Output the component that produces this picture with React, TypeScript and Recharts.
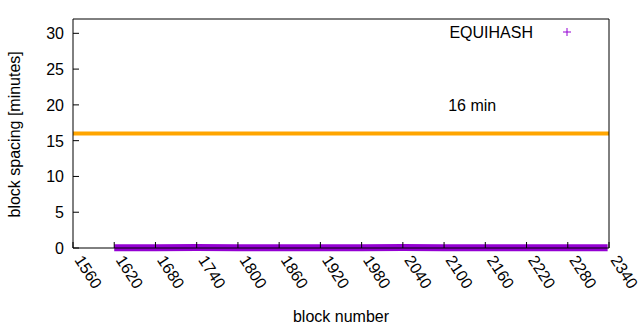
import React from 'react';
import {
  LineChart,
  Line,
  XAxis,
  YAxis,
  ReferenceLine,
  ReferenceDot,
  Legend,
} from 'recharts';

const blocks = [1620, 1680, 1740, 1800, 1860, 1920, 1980, 2040, 2100, 2160, 2220, 2280, 2338];
const spacing = [0.05, 0.03, 0.06, 0.04, 0.05, 0.03, 0.04, 0.06, 0.05, 0.04, 0.03, 0.05, 0.04];
const xTicks = [1560, 1620, 1680, 1740, 1800, 1860, 1920, 1980, 2040, 2100, 2160, 2220, 2280, 2340];
const yTicks = [0, 5, 10, 15, 20, 25, 30];
const targetMinutes = 16;

const chartData = blocks.map((b, i) => ({ block: b, spacing: spacing[i] }));

const font = '"Liberation Sans", Arial, sans-serif';
const TICK = 6;

const BottomTick = (props: any) => {
  const { x, y, payload } = props;
  const tx = x + 1;
  const ty = y + 12;
  return (
    <g>
      <line x1={x} y1={y} x2={x} y2={y - TICK} stroke="#000" />
      <text
        x={tx}
        y={ty}
        transform={`rotate(57 ${tx} ${ty})`}
        textAnchor="start"
        fontSize={16}
        fontFamily={font}
        fill="#000"
      >
        {payload.value}
      </text>
    </g>
  );
};

const TopTick = (props: any) => {
  const { x, y } = props;
  return <line x1={x} y1={y} x2={x} y2={y + TICK} stroke="#000" />;
};

const LeftTick = (props: any) => {
  const { x, y, payload } = props;
  return (
    <g>
      <line x1={x} y1={y} x2={x + TICK} y2={y} stroke="#000" />
      <text x={x - 9} y={y + 6} textAnchor="end" fontSize={16} fontFamily={font} fill="#000">
        {payload.value}
      </text>
    </g>
  );
};

const RightTick = (props: any) => {
  const { x, y } = props;
  return <line x1={x} y1={y} x2={x - TICK} y2={y} stroke="#000" />;
};

const LegendBox = () => (
  <svg width={140} height={20} style={{ overflow: 'visible', display: 'block' }}>
    <text x={82} y={14} textAnchor="end" fontSize={16} fontFamily={font} fill="#000">
      EQUIHASH
    </text>
    <line x1={112} y1={8} x2={120} y2={8} stroke="#9400d3" />
    <line x1={116} y1={4} x2={116} y2={12} stroke="#9400d3" />
  </svg>
);

export default function App() {
  return (
    <div style={{ position: 'absolute', left: 0, top: 0, width: 640, height: 330, background: '#fff' }}>
      <LineChart
        width={640}
        height={330}
        data={chartData}
        margin={{ top: 0, right: 0, bottom: 0, left: 0 }}
      >
        <XAxis
          dataKey="block"
          type="number"
          domain={[1560, 2340]}
          ticks={xTicks}
          height={82}
          tickSize={0}
          tickMargin={0}
          tickLine={false}
          tick={<BottomTick />}
          axisLine={{ stroke: '#000' }}
          interval={0}
          label={{ value: 'block number', position: 'insideBottom', offset: 8, fontSize: 16, fontFamily: font, fill: '#000' }}
        />
        <XAxis
          xAxisId="top"
          orientation="top"
          type="number"
          domain={[1560, 2340]}
          ticks={xTicks}
          height={19}
          tickSize={0}
          tickMargin={0}
          tickLine={false}
          tick={<TopTick />}
          axisLine={{ stroke: '#000' }}
          interval={0}
        />
        <YAxis
          type="number"
          domain={[0, 32]}
          ticks={yTicks}
          width={73}
          tickSize={0}
          tickMargin={0}
          tickLine={false}
          tick={<LeftTick />}
          axisLine={{ stroke: '#000' }}
          interval={0}
          label={{ value: 'block spacing [minutes]', angle: -90, position: 'insideLeft', offset: 14, dy: 84, fontSize: 16, fontFamily: font, fill: '#000' }}
        />
        <YAxis
          yAxisId="right"
          orientation="right"
          type="number"
          domain={[0, 32]}
          ticks={yTicks}
          width={31}
          tickSize={0}
          tickMargin={0}
          tickLine={false}
          tick={<RightTick />}
          axisLine={{ stroke: '#000' }}
          interval={0}
        />
        <ReferenceLine y={targetMinutes} stroke="#ffa500" strokeWidth={4} />
        <ReferenceDot
          x={2106}
          y={20}
          r={0}
          stroke="none"
          fill="none"
          label={{ value: '16 min', position: 'right', offset: 0, fontSize: 16, fontFamily: font, fill: '#000', textAnchor: 'start' }}
        />
        <Line
          dataKey="spacing"
          stroke="#9400d3"
          strokeWidth={7}
          dot={false}
          isAnimationActive={false}
          legendType="none"
        />
        <Legend
          layout="horizontal"
          verticalAlign="middle"
          align="center"
          content={<LegendBox />}
          wrapperStyle={{ position: 'absolute', left: 451, top: 24, width: 140, height: 20 }}
        />
      </LineChart>
    </div>
  );
}
